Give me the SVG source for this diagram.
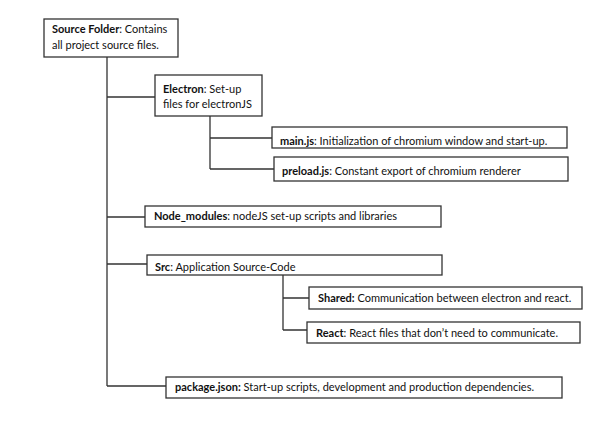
<svg xmlns="http://www.w3.org/2000/svg" width="602" height="426" viewBox="0 0 602 426">
<style>
.box{fill:#fff;stroke:#333;stroke-width:1.3}
.ln{fill:none;stroke:#333;stroke-width:1.3}
text{font-family:Lato,"Liberation Sans",sans-serif;font-size:11px;fill:#111}
.b{font-weight:bold}
</style>
<rect width="602" height="426" fill="#fff"/>
<g id="connectors">
<path class="ln" d="M107,57V386M107,97H155M107,217H145M107,264H147M107,386H166"/>
<path class="ln" d="M210,116V169M210,138H272M210,169H274"/>
<path class="ln" d="M283,275V330M283,298H309M283,330H307"/>
</g>
<g id="source-folder">
<rect class="box" x="44" y="19" width="134" height="38"/>
<text x="52" y="33"><tspan class="b">Source Folder</tspan>: Contains</text>
<text x="52" y="49">all project source files.</text>
</g>
<g id="electron">
<rect class="box" x="155" y="75" width="107" height="41"/>
<text x="163" y="93"><tspan class="b">Electron</tspan>: Set-up</text>
<text x="163" y="108">files for electronJS</text>
</g>
<g id="main-js">
<rect class="box" x="272" y="127" width="295" height="21"/>
<text x="280" y="145"><tspan class="b">main.js</tspan>: Initialization of chromium window and start-up.</text>
</g>
<g id="preload-js">
<rect class="box" x="274" y="157" width="294" height="24"/>
<text x="282" y="175"><tspan class="b">preload.js</tspan>: Constant export of chromium renderer</text>
</g>
<g id="node-modules">
<rect class="box" x="145" y="206" width="296" height="21"/>
<text x="154" y="220"><tspan class="b">Node_modules</tspan>: nodeJS set-up scripts and libraries</text>
</g>
<g id="src">
<rect class="box" x="147" y="255" width="295" height="20"/>
<text x="155" y="271"><tspan class="b">Src</tspan>: Application Source-Code</text>
</g>
<g id="shared">
<rect class="box" x="309" y="287" width="273" height="22"/>
<text x="318" y="302"><tspan class="b">Shared:</tspan> Communication between electron and react.</text>
</g>
<g id="react">
<rect class="box" x="307" y="322" width="273" height="21"/>
<text x="316" y="337"><tspan class="b">React</tspan>: React files that don’t need to communicate.</text>
</g>
<g id="package-json">
<rect class="box" x="166" y="377" width="396" height="21"/>
<text x="175" y="391"><tspan class="b">package.json:</tspan> Start-up scripts, development and production dependencies.</text>
</g>
</svg>
